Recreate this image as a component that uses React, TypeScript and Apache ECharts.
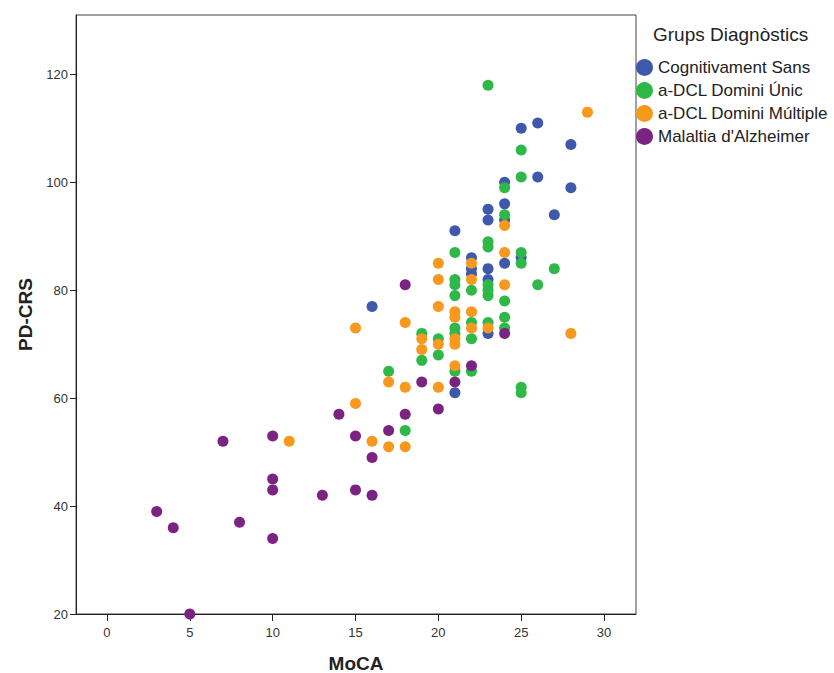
import React, { useEffect, useRef } from "react";
import * as echarts from "echarts";

const groupNames = [
  "Cognitivament Sans",
  "a-DCL Domini Únic",
  "a-DCL Domini Múltiple",
  "Malaltia d'Alzheimer",
];
const groupColors = ["#3E58AC", "#2EB848", "#F8981D", "#7A2382"];

const xTicks = [0, 5, 10, 15, 20, 25, 30];
const yTicks = [20, 40, 60, 80, 100, 120];

// [MoCA, PD-CRS]
const cognitivamentSans: number[][] = [
  [16, 77], [21, 91], [21, 61], [22, 86], [22, 84], [22, 83], [23, 95], [23, 93],
  [23, 84], [23, 82], [23, 72], [24, 100], [24, 96], [24, 93], [24, 85], [25, 110],
  [25, 86], [26, 111], [26, 101], [27, 94], [28, 107], [28, 99],
];
const dclUnic: number[][] = [
  [17, 65], [18, 54], [19, 72], [19, 67], [20, 71], [20, 68], [21, 87], [21, 82],
  [21, 81], [21, 79], [21, 73], [21, 72], [21, 65], [22, 80], [22, 74], [22, 71],
  [22, 65], [23, 118], [23, 89], [23, 88], [23, 81], [23, 80], [23, 79], [23, 74],
  [24, 99], [24, 94], [24, 78], [24, 75], [24, 73], [25, 106], [25, 101], [25, 87],
  [25, 85], [25, 62], [25, 61], [26, 81], [27, 84],
];
const dclMultiple: number[][] = [
  [11, 52], [15, 73], [15, 59], [16, 52], [17, 63], [17, 51], [18, 74], [18, 62],
  [18, 51], [19, 71], [19, 69], [20, 85], [20, 82], [20, 77], [20, 70], [20, 62],
  [21, 76], [21, 75], [21, 71], [21, 70], [21, 66], [22, 85], [22, 82], [22, 76],
  [22, 73], [23, 73], [24, 92], [24, 87], [24, 81], [28, 72], [29, 113],
];
const alzheimer: number[][] = [
  [3, 39], [4, 36], [5, 20], [7, 52], [8, 37], [10, 53], [10, 45], [10, 43],
  [10, 34], [13, 42], [14, 57], [15, 53], [15, 43], [16, 49], [16, 42], [17, 54],
  [18, 81], [18, 57], [19, 63], [20, 58], [21, 63], [22, 66], [24, 72],
];

const groupData = [cognitivamentSans, dclUnic, dclMultiple, alzheimer];

const FONT = "Liberation Sans, Arial, sans-serif";

export default function App() {
  const ref = useRef<HTMLDivElement>(null);
  useEffect(() => {
    document.body.style.margin = "0";
    const chart = echarts.init(ref.current!, undefined, { renderer: "svg" });
    chart.setOption({
      animation: false,
      backgroundColor: "#ffffff",
      textStyle: { fontFamily: FONT },
      title: {
        text: "Grups Diagnòstics",
        left: 648,
        top: 20,
        textStyle: { fontFamily: FONT, fontSize: 19, fontWeight: "normal", color: "#222" },
      },
      legend: {
        orient: "vertical",
        left: 636,
        top: 59,
        padding: 0,
        itemWidth: 17,
        itemHeight: 17,
        itemGap: 6,
        icon: "circle",
        data: groupNames,
        textStyle: { fontFamily: FONT, fontSize: 17, lineHeight: 17, color: "#222" },
      },
      grid: {
        left: 76,
        right: 198,
        top: 15,
        bottom: 59,
        outerBoundsMode: "none",
        containLabel: false,
        show: true,
        borderColor: "#444",
        borderWidth: 1,
        backgroundColor: "transparent",
      },
      xAxis: {
        type: "value",
        min: -1.87,
        max: 31.93,
        name: "MoCA",
        nameLocation: "middle",
        nameGap: 40,
        nameTextStyle: { fontFamily: FONT, fontSize: 19, fontWeight: "bold", color: "#222" },
        axisLine: { show: true, onZero: false, lineStyle: { color: "#222", width: 1 } },
        axisTick: { show: true, length: 7, customValues: xTicks, lineStyle: { color: "#222" } },
        axisLabel: { customValues: xTicks, fontSize: 13, color: "#333", margin: 12 },
        splitLine: { show: false },
      },
      yAxis: {
        type: "value",
        min: 20,
        max: 131,
        name: "PD-CRS",
        nameLocation: "middle",
        nameGap: 33,
        nameRotate: 90,
        nameTextStyle: { fontFamily: FONT, fontSize: 19, fontWeight: "bold", color: "#222" },
        axisLine: { show: true, onZero: false, lineStyle: { color: "#222", width: 1 } },
        axisTick: { show: true, length: 6, customValues: yTicks, lineStyle: { color: "#222" } },
        axisLabel: { customValues: yTicks, fontSize: 13, color: "#333", margin: 8 },
        splitLine: { show: false },
      },
      series: groupNames.map((name, i) => ({
        type: "scatter",
        name,
        data: groupData[i],
        symbol: "circle",
        symbolSize: 11,
        itemStyle: { color: groupColors[i], opacity: 1 },
        clip: true,
      })),
    });
    return () => chart.dispose();
  }, []);
  return (
    <div
      ref={ref}
      style={{ position: "fixed", left: 0, top: 0, width: 834, height: 673 }}
    />
  );
}
